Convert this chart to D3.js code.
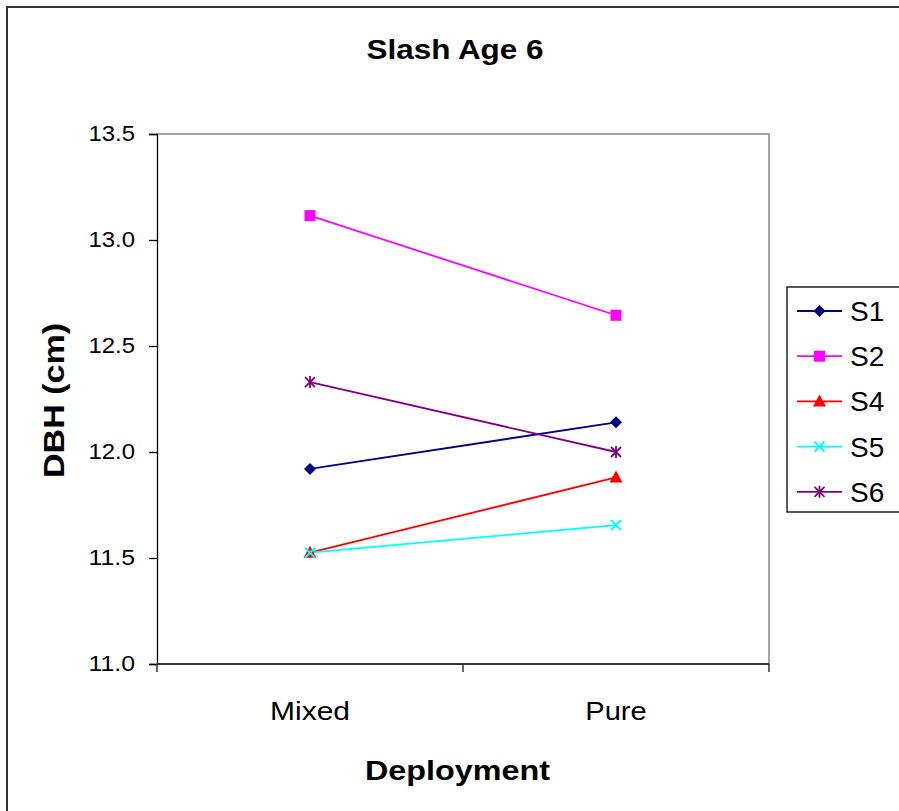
<!DOCTYPE html>
<html><head><meta charset="utf-8">
<script src="https://cdn.jsdelivr.net/npm/d3@7"></script>
<style>body{margin:0;background:#fff;}svg{display:block;font-family:Arial,"Liberation Sans",sans-serif;}</style>
</head><body>
<svg id="c" width="899" height="811"></svg>
<script>
const categories = ["Mixed", "Pure"];
const seriesNames = ["S1", "S2", "S4", "S5", "S6"];
const S1 = [11.92, 12.14];
const S2 = [13.115, 12.645];
const S4 = [11.525, 11.88];
const S5 = [11.525, 11.655];
const S6 = [12.33, 12.0];
const yTicks = [11.0, 11.5, 12.0, 12.5, 13.0, 13.5];
const colors = ["#000080", "#FF00FF", "#FF0000", "#00FFFF", "#800080"];
const markers = ["diamond", "square", "triangle", "x", "star"];
const values = [S1, S2, S4, S5, S6];

const svg = d3.select("#c");
const L = 157, R = 769, T = 134, B = 664;
const x = d3.scaleBand().domain(categories).range([L, R]);
const y = d3.scaleLinear().domain([11, 13.5]).range([B, T]);

// outer border
svg.append("rect").attr("x", 7).attr("y", 7).attr("width", 1000).attr("height", 1000)
  .attr("fill", "none").attr("stroke", "#333").attr("stroke-width", 2);

// plot area border (top, right grey)
svg.append("path").attr("d", `M${L},${T}H${R}V${B}`).attr("fill", "none").attr("stroke", "#888").attr("stroke-width", 1.5);

// y axis
const ya = svg.append("g").attr("transform", `translate(${L},0)`)
  .call(d3.axisLeft(y).tickValues(yTicks).tickFormat(d3.format(".1f")).tickSizeOuter(0).tickSize(8).tickPadding(14));
ya.select(".domain").attr("stroke", "#000").attr("stroke-width", 1.3);
ya.selectAll(".tick line").attr("stroke", "#000").attr("stroke-width", 1.3);
ya.selectAll(".tick text").attr("font-size", 21.5).attr("fill", "#000")
  .attr("textLength", 46.5).attr("lengthAdjust", "spacingAndGlyphs")
  .attr("font-family", "Arial, 'Liberation Sans', sans-serif");

// x axis
const xb = svg.append("g").attr("transform", `translate(0,${B})`);
xb.append("line").attr("x1", L).attr("x2", R).attr("stroke", "#333").attr("stroke-width", 2);
const edges = [L, ...categories.map(c => x(c) + x.bandwidth())];
edges.forEach(e => xb.append("line").attr("x1", e).attr("x2", e).attr("y1", 0).attr("y2", 8).attr("stroke", "#333").attr("stroke-width", 1.5));
const catWidths = {"Mixed": 80, "Pure": 61.5};
categories.forEach(c => {
  xb.append("text").attr("x", x(c) + x.bandwidth() / 2).attr("y", 56).attr("text-anchor", "middle")
    .attr("font-size", 25.5).attr("fill", "#000")
    .attr("textLength", catWidths[c]).attr("lengthAdjust", "spacingAndGlyphs").text(c);
});

// titles
svg.append("text").attr("x", 455).attr("y", 59).attr("text-anchor", "middle").attr("font-weight", "bold")
  .attr("font-size", 27).attr("textLength", 177).attr("lengthAdjust", "spacingAndGlyphs").text("Slash Age 6");
svg.append("text").attr("x", 457.5).attr("y", 780).attr("text-anchor", "middle").attr("font-weight", "bold")
  .attr("font-size", 28).attr("textLength", 185).attr("lengthAdjust", "spacingAndGlyphs").text("Deployment");
svg.append("text").attr("transform", "translate(63.5,400.5) rotate(-90)").attr("text-anchor", "middle").attr("font-weight", "bold")
  .attr("font-size", 29).attr("textLength", 155).attr("lengthAdjust", "spacingAndGlyphs").text("DBH (cm)");

function drawMarker(g, type, cx, cy, color) {
  if (type === "diamond") {
    g.append("path").attr("d", `M${cx},${cy-6}L${cx+6},${cy}L${cx},${cy+6}L${cx-6},${cy}Z`).attr("fill", color);
  } else if (type === "square") {
    g.append("rect").attr("x", cx - 5.5).attr("y", cy - 5.5).attr("width", 11).attr("height", 11).attr("fill", color);
  } else if (type === "triangle") {
    g.append("path").attr("d", `M${cx},${cy-7}L${cx+6.5},${cy+5}L${cx-6.5},${cy+5}Z`).attr("fill", color);
  } else if (type === "x") {
    g.append("path").attr("d", `M${cx-5},${cy-5}L${cx+5},${cy+5}M${cx+5},${cy-5}L${cx-5},${cy+5}`).attr("stroke", color).attr("stroke-width", 2);
  } else if (type === "star") {
    g.append("path").attr("d", `M${cx-5},${cy-5}L${cx+5},${cy+5}M${cx+5},${cy-5}L${cx-5},${cy+5}M${cx},${cy-6}L${cx},${cy+6}`).attr("stroke", color).attr("stroke-width", 1.8);
  }
}

const cx = c => x(c) + x.bandwidth() / 2;
const line = d3.line().x((d, i) => cx(categories[i])).y(d => y(d));
const plot = svg.append("g");
values.forEach((vals, si) => {
  plot.append("path").attr("d", line(vals)).attr("fill", "none").attr("stroke", colors[si]).attr("stroke-width", 1.8);
});
values.forEach((vals, si) => {
  vals.forEach((v, i) => drawMarker(plot, markers[si], cx(categories[i]), y(v), colors[si]));
});

// legend
const lg = svg.append("g");
lg.append("rect").attr("x", 787).attr("y", 287).attr("width", 200).attr("height", 225)
  .attr("fill", "#fff").attr("stroke", "#000").attr("stroke-width", 1.3);
seriesNames.forEach((n, i) => {
  const ly = 311 + i * 45.2;
  lg.append("line").attr("x1", 797).attr("x2", 842).attr("y1", ly).attr("y2", ly).attr("stroke", colors[i]).attr("stroke-width", 1.8);
  drawMarker(lg, markers[i], 819.5, ly, colors[i]);
  lg.append("text").attr("x", 850).attr("y", ly + 10).attr("font-size", 28).attr("fill", "#000").text(n);
});
</script>
</body></html>
